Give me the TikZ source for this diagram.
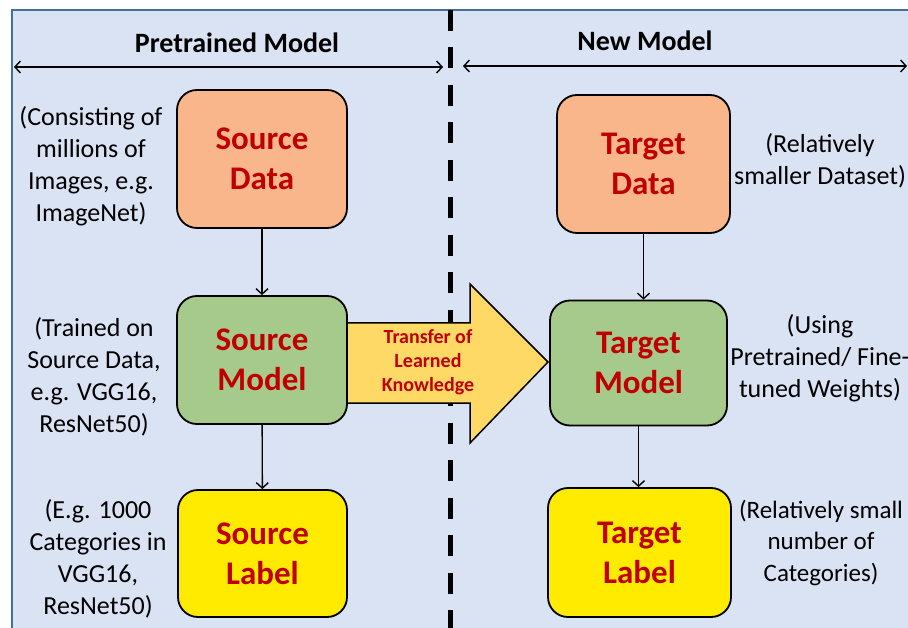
\documentclass[tikz,border=0pt]{standalone}
\usepackage{fontspec}
\setmainfont{Carlito}
\usetikzlibrary{arrows.meta}
\definecolor{panelfill}{HTML}{DAE3F3}
\definecolor{panelline}{HTML}{41719C}
\definecolor{orangefill}{HTML}{F8B68A}
\definecolor{greenfill}{HTML}{A6C98C}
\definecolor{yellowfill}{HTML}{FFEB00}
\definecolor{arrowfill}{HTML}{FFD966}
\definecolor{darkred}{HTML}{C00000}
\begin{document}
\begin{tikzpicture}[x=1pt,y=-1pt,
 box/.style={draw=black, line width=1.8pt, rounded corners=20pt, inner sep=0pt, align=center, text=darkred, font=\fontsize{33}{40}\selectfont\bfseries},
 side/.style={align=center, font=\fontsize{26}{32}\selectfont, text=black, inner sep=0pt},
 head/.style={font=\fontsize{28}{34}\selectfont\bfseries, inner sep=0pt, anchor=base},
 flow/.style={line width=1.4pt, -{Straight Barb[length=5.5pt,width=12pt]}},
 span/.style={line width=1.4pt, {Straight Barb[length=5.5pt,width=12pt]}-{Straight Barb[length=5.5pt,width=12pt]}}
]
\useasboundingbox (0,0) rectangle (908,628);
\fill[white] (0,0) rectangle (908,628);
\fill[panelfill] (12,10) rectangle (920,640);
\draw[panelline, line width=2pt] (920,10) -- (12,10) -- (12,640);
% divider
\draw[line width=5pt, dash pattern=on 21pt off 16.5pt] (450,10) -- (450,640);
% headers
\node[head] (hl) at (237,53) {Pretrained Model};
\node[head] (hr) at (645,51) {New Model};
\coordinate (la) at (14,67);
\coordinate (lb) at (443,67);
\coordinate (ra) at (463,66);
\coordinate (rb) at (907,66);
\draw[span] (la) -- (lb);
\draw[span] (ra) -- (rb);
% big arrow
\draw[fill=arrowfill, line width=1.5pt, line join=miter] (345,323) -- (470,323) -- (470,284) -- (548,362) -- (470,443) -- (470,403) -- (345,403) -- cycle;
\node[font=\fontsize{20}{24}\selectfont\bfseries, text=darkred, align=center, inner sep=0pt] (tr) at (428,362) {Transfer of\\Learned\\Knowledge};
% boxes
\node[box, fill=orangefill, minimum width=170pt, minimum height=138pt] (sd) at (262,159) {Source\\Data};
\node[box, fill=greenfill, minimum width=170pt, minimum height=128pt] (sm) at (262,360) {Source\\Model};
\node[box, fill=yellowfill, minimum width=169pt, minimum height=127pt] (sl) at (262.5,553.5) {Source\\Label};
\node[box, fill=orangefill, minimum width=173pt, minimum height=138pt] (td) at (643.5,164) {Target\\Data};
\node[box, fill=greenfill, minimum width=177pt, minimum height=125pt] (tm) at (638.5,363) {Target\\Model};
\node[box, fill=yellowfill, minimum width=183pt, minimum height=129pt] (tl) at (639.5,552.5) {Target\\Label};
% connectors
\draw[flow] (sd) -- (sm);
\draw[flow] (sm) -- (sl);
\draw[flow] (td.south) -- (td.south |- tm.north);
\draw[flow] (tm.south) -- (tm.south |- tl.north);
% side notes
\node[side] (n1) at (91,166) {(Consisting of\\millions of\\Images, e.g.\\ImageNet)};
\node[side] (n2) at (94,377) {(Trained on\\Source Data,\\e.g. VGG16,\\ResNet50)};
\node[side] (n3) at (98,559) {(E.g. 1000\\Categories in\\VGG16,\\ResNet50)};
\node[side] (n4) at (820,161) {(Relatively\\smaller Dataset)};
\node[side] (n5) at (820,358) {(Using\\Pretrained/ Fine-\\tuned Weights)};
\node[side, font=\fontsize{25}{31.5}\selectfont] (n6) at (821,543) {(Relatively small\\number of\\Categories)};
\end{tikzpicture}
\end{document}
